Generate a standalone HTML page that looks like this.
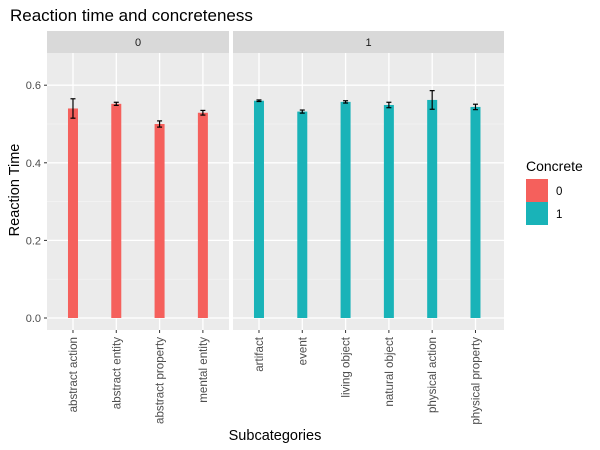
<!DOCTYPE html>
<html><head><meta charset="utf-8"><style>
body{margin:0;background:#fff;font-family:"Liberation Sans",Arial,sans-serif}
svg{display:block}
</style></head><body>
<svg id="chart" width="600" height="450" font-family="Liberation Sans, Arial, sans-serif">
<text x="10" y="21" font-size="17" fill="#000">Reaction time and concreteness</text>
<g id="panels"></g>
<text x="275" y="440" font-size="14.5" text-anchor="middle" fill="#000">Subcategories</text>
<text transform="translate(19,190) rotate(-90)" font-size="14.5" text-anchor="middle" fill="#000">Reaction Time</text>
<g>
<text x="526" y="171" font-size="14" fill="#000">Concrete</text>
<rect x="526" y="179" width="22" height="23" fill="#F5605C"/>
<rect x="526" y="202" width="22" height="23" fill="#19b3b8"/>
<text x="556" y="195" font-size="11.5" fill="#000">0</text>
<text x="556" y="218" font-size="11.5" fill="#000">1</text>
</g>
</svg>
<script>
const panelNames = ["0", "1"];
const cats0 = ["abstract action", "abstract entity", "abstract property", "mental entity"];
const vals0 = [0.540, 0.552, 0.500, 0.529];
const errs0 = [0.025, 0.004, 0.008, 0.006];
const cats1 = ["artifact", "event", "living object", "natural object", "physical action", "physical property"];
const vals1 = [0.560, 0.532, 0.557, 0.549, 0.562, 0.544];
const errs1 = [0.002, 0.004, 0.003, 0.007, 0.024, 0.007];
const yTicks = [0.0, 0.2, 0.4, 0.6];
const yTickLabels = ["0.0", "0.2", "0.4", "0.6"];

const NS = "http://www.w3.org/2000/svg";
const gRoot = document.getElementById("panels");
function mk(tag, attrs, parent) {
  const e = document.createElementNS(NS, tag);
  for (const k in attrs) e.setAttribute(k, attrs[k]);
  (parent || gRoot).appendChild(e);
  return e;
}
const plotTop = 53, plotBottom = 330;
const yZero = 318, pxPerUnit = 388;
function yScale(v) { return yZero - v * pxPerUnit; }
const unit = 43.3;
const panelDefs = [
  {x0: 47, x1: 229, cats: cats0, vals: vals0, errs: errs0, color: "#F5605C"},
  {x0: 233, x1: 504, cats: cats1, vals: vals1, errs: errs1, color: "#19b3b8"}
];
panelDefs.forEach((p, pi) => {
  const xs = i => p.x0 + (i + 0.6) * unit;
  const bg = mk("rect", {x: p.x0, y: plotTop, width: p.x1 - p.x0, height: plotBottom - plotTop, fill: "#ebebeb"});
  
  
  const strip = mk("rect", {x: p.x0, y: 31, width: p.x1 - p.x0, height: 22, fill: "#d9d9d9"});
  
  
  const st = mk("text", {x: (p.x0 + p.x1) / 2, y: 46, "font-size": 11, "text-anchor": "middle", fill: "#1a1a1a"});
  st.textContent = panelNames[pi];
  
  
  for (let i = 0; i < yTicks.length - 1; i++) {
    const v = (yTicks[i] + yTicks[i + 1]) / 2;
    mk("line", {x1: p.x0, x2: p.x1, y1: yScale(v), y2: yScale(v), stroke: "#f5f5f5", "stroke-width": 0.7});
  }
  if (yScale(0.7) > plotTop) mk("line", {x1: p.x0, x2: p.x1, y1: yScale(0.7), y2: yScale(0.7), stroke: "#f5f5f5", "stroke-width": 0.7});
  yTicks.forEach(v => mk("line", {x1: p.x0, x2: p.x1, y1: yScale(v), y2: yScale(v), stroke: "#fff", "stroke-width": 1.3}));
  p.cats.forEach((c, i) => {
    mk("line", {x1: xs(i), x2: xs(i), y1: plotTop, y2: plotBottom, stroke: "#fff", "stroke-width": 1.3});
  });
  p.cats.forEach((c, i) => {
    const v = p.vals[i], e = p.errs[i];
    const b = mk("rect", {x: xs(i) - 5, y: yScale(v), width: 10, height: yScale(0) - yScale(v), fill: p.color});
    
    
    const eb = mk("g", {stroke: "#000", "stroke-width": 1.2});
    
    
    mk("line", {x1: xs(i), x2: xs(i), y1: yScale(v + e), y2: yScale(v - e)}, eb);
    mk("line", {x1: xs(i) - 2.5, x2: xs(i) + 2.5, y1: yScale(v + e), y2: yScale(v + e)}, eb);
    mk("line", {x1: xs(i) - 2.5, x2: xs(i) + 2.5, y1: yScale(v - e), y2: yScale(v - e)}, eb);
    mk("line", {x1: xs(i), x2: xs(i), y1: plotBottom, y2: plotBottom + 3, stroke: "#333", "stroke-width": 1});
    const t = mk("text", {transform: `translate(${xs(i) + 4},${plotBottom + 7}) rotate(-90)`, "font-size": 11.6, "text-anchor": "end", fill: "#4d4d4d"});
    t.textContent = c;
    
    
  });
});
yTicks.forEach((v, i) => {
  mk("line", {x1: 44, x2: 47, y1: yScale(v), y2: yScale(v), stroke: "#333", "stroke-width": 1});
  const t = mk("text", {x: 41, y: yScale(v) + 4, "font-size": 11, "text-anchor": "end", fill: "#4d4d4d"});
  t.textContent = yTickLabels[i];
  
  
});
</script>
</body></html>
